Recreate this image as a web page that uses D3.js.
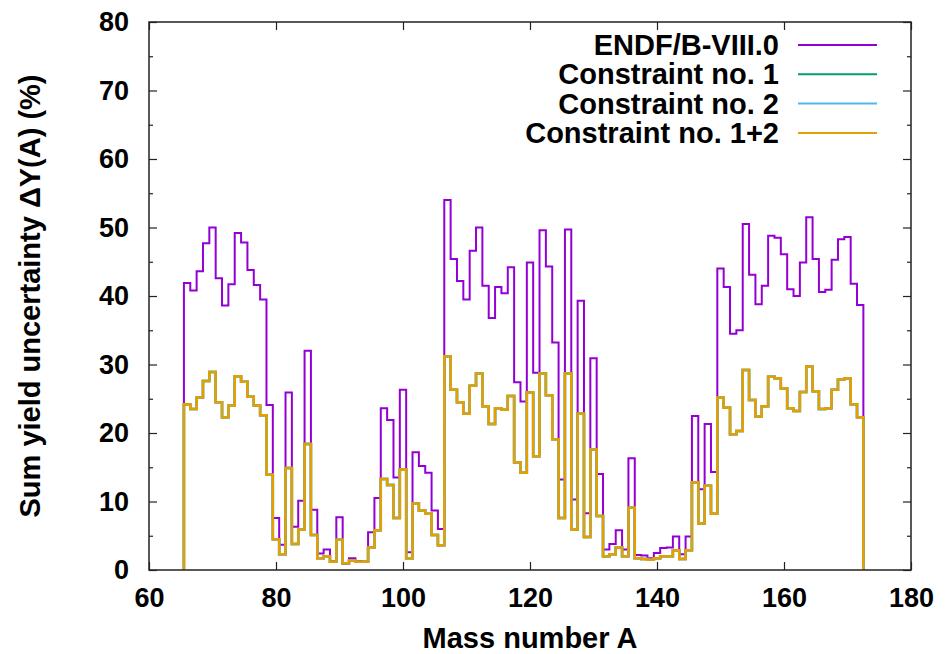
<!DOCTYPE html>
<html>
<head>
<meta charset="utf-8">
<script src="https://cdn.jsdelivr.net/npm/d3@7"></script>
<style>
  body { margin: 0; background: #fff; }
  svg text { font-family: "Liberation Sans", Arial, sans-serif; font-weight: bold; fill: #000; }
</style>
</head>
<body>
<div id="chart"></div>
<script>
// mass numbers A (one bin per A, histogram steps)
var massNumbers = [66,67,68,69,70,71,72,73,74,75,76,77,78,79,80,81,82,83,84,85,86,87,88,89,90,
  91,92,93,94,95,96,97,98,99,100,101,102,103,104,105,106,107,108,109,110,111,112,113,114,115,
  116,117,118,119,120,121,122,123,124,125,126,127,128,129,130,131,132,133,134,135,136,137,138,
  139,140,141,142,143,144,145,146,147,148,149,150,151,152,153,154,155,156,157,158,159,160,161,
  162,163,164,165,166,167,168,169,170,171,172];

// sum yield uncertainty (%)
var endf = [41.9,40.8,43.6,47.7,50.0,42.6,38.6,41.7,49.2,47.8,43.8,41.6,39.5,24.1,7.6,3.7,25.9,6.3,10.1,32.0,
  8.8,2.4,3.0,1.3,7.7,0.9,1.7,1.3,1.2,5.5,10.5,23.6,21.9,13.5,26.3,2.6,17.2,15.2,14.2,8.7,
  6.0,54.0,45.4,42.2,39.5,46.6,50.0,41.5,36.8,41.3,40.4,44.2,27.4,24.6,44.9,28.8,49.6,44.3,33.2,13.2,
  49.7,10.3,39.3,8.3,30.9,14.0,3.0,3.8,5.8,3.0,16.3,2.2,2.1,1.7,2.5,3.2,3.3,4.9,2.3,4.9,
  22.5,11.8,21.3,14.3,44.0,41.3,34.5,35.0,50.5,43.1,38.8,41.5,48.8,48.5,46.1,41.0,40.0,44.9,51.5,45.4,
  40.6,40.9,45.3,48.3,48.6,41.8,38.7];

var constraint12 = [24.2,23.5,25.2,27.6,28.9,24.5,22.3,24.0,28.3,27.5,25.3,24.0,22.6,13.9,4.5,2.3,14.9,3.8,5.9,18.4,
  5.1,1.7,2.0,1.2,4.4,1.0,1.4,1.2,1.2,3.3,5.8,13.3,12.4,7.6,14.7,1.7,9.7,8.7,8.2,5.1,
  3.6,31.2,26.3,24.5,22.8,26.9,28.7,23.9,21.3,23.6,23.4,25.4,15.7,14.2,25.9,16.6,28.7,25.5,19.1,7.6,
  28.7,5.9,22.8,4.8,17.6,7.9,2.0,2.3,3.3,2.0,9.1,1.7,1.6,1.5,1.7,2.0,2.0,2.9,1.6,2.9,
  12.8,6.8,12.3,8.2,25.2,23.7,19.8,20.3,29.2,24.8,22.4,23.9,28.2,28.0,26.5,23.6,23.2,26.0,29.7,26.1,
  23.5,23.6,26.3,27.8,28.0,24.2,22.3];

// constraint no. 1 and no. 2 lie exactly under the 1+2 curve in the picture
var constraint1 = constraint12;
var constraint2 = constraint12;

var seriesNames = ["ENDF/B-VIII.0", "Constraint no. 1", "Constraint no. 2", "Constraint no. 1+2"];
var seriesColors = ["#9400d3", "#009e73", "#56b4e9", "#e69f00"];
var seriesValues = [endf, constraint1, constraint2, constraint12];

var xTicks = [60, 80, 100, 120, 140, 160, 180];
var yTicks = [0, 10, 20, 30, 40, 50, 60, 70, 80];
var yMinorTicks = [5, 15, 25, 35, 45, 55, 65, 75];

// set the dimensions and margins of the graph
var margin = {top: 22, right: 34, bottom: 84, left: 149},
    width = 945 - margin.left - margin.right,
    height = 654 - margin.top - margin.bottom;

var svg = d3.select("#chart")
  .append("svg")
    .attr("width", width + margin.left + margin.right)
    .attr("height", height + margin.top + margin.bottom)
  .append("g")
    .attr("transform", "translate(" + margin.left + "," + margin.top + ")");

var x = d3.scaleLinear().domain([60, 180]).range([0, width]);
var y = d3.scaleLinear().domain([0, 80]).range([height, 0]);

// axes with inward ticks, mirrored on the opposite side
function styleAxis(g) {
  g.select(".domain").remove();
  g.selectAll(".tick line").attr("stroke", "#222").attr("stroke-width", 1.2);
  g.selectAll(".tick text").style("font-size", "27px");
}

svg.append("g")
  .attr("transform", "translate(0," + height + ")")
  .call(d3.axisBottom(x).tickValues(xTicks).tickSize(-8).tickPadding(18))
  .call(styleAxis);
svg.append("g")
  .call(d3.axisTop(x).tickValues(xTicks).tickSize(-8).tickFormat(""))
  .call(styleAxis);
svg.append("g")
  .call(d3.axisLeft(y).tickValues(yTicks).tickSize(-8).tickPadding(20))
  .call(styleAxis);
svg.append("g")
  .attr("transform", "translate(" + width + ",0)")
  .call(d3.axisRight(y).tickValues(yTicks).tickSize(-8).tickFormat(""))
  .call(styleAxis);
svg.append("g")
  .call(d3.axisLeft(y).tickValues(yMinorTicks).tickSize(-4).tickFormat(""))
  .call(styleAxis);
svg.append("g")
  .attr("transform", "translate(" + width + ",0)")
  .call(d3.axisRight(y).tickValues(yMinorTicks).tickSize(-4).tickFormat(""))
  .call(styleAxis);

// histogram-step path, dropping to zero at both ends
function stepPoints(values) {
  var pts = [[massNumbers[0] - 0.5, 0]];
  values.forEach(function(v, i) {
    pts.push([massNumbers[i] - 0.5, v]);
    pts.push([massNumbers[i] + 0.5, v]);
  });
  pts.push([massNumbers[massNumbers.length - 1] + 0.5, 0]);
  return pts;
}

var line = d3.line()
  .x(function(d) { return x(d[0]); })
  .y(function(d) { return y(d[1]); });

seriesValues.forEach(function(vals, i) {
  svg.append("path")
    .datum(stepPoints(vals))
    .attr("fill", "none")
    .attr("stroke", seriesColors[i])
    .attr("stroke-width", i === 0 ? 2 : 2.5)
    .attr("stroke-linejoin", "miter")
    .attr("d", line);
});

// border
svg.append("rect")
  .attr("width", width)
  .attr("height", height)
  .attr("fill", "none")
  .attr("stroke", "#222")
  .attr("stroke-width", 1.5);

// legend
var legend = svg.append("g").attr("transform", "translate(" + (779 - margin.left) + "," + (45 - margin.top) + ")");
seriesNames.forEach(function(name, i) {
  var row = legend.append("g").attr("transform", "translate(0," + (i * 29.3) + ")");
  row.append("text")
    .attr("text-anchor", "end")
    .attr("y", 10)
    .style("font-size", "29px")
    .text(name);
  row.append("line")
    .attr("x1", 19).attr("x2", 98)
    .attr("y1", 0).attr("y2", 0)
    .attr("stroke", seriesColors[i])
    .attr("stroke-width", 2);
});

// X axis label
svg.append("text")
  .attr("text-anchor", "middle")
  .attr("x", width / 2)
  .attr("y", height + 78)
  .style("font-size", "29px")
  .text("Mass number A");

// Y axis label
svg.append("text")
  .attr("text-anchor", "middle")
  .attr("transform", "rotate(-90)")
  .attr("x", -height / 2)
  .attr("y", -109)
  .style("font-size", "29px")
  .text("Sum yield uncertainty \u0394Y(A) (%)");
</script>
</body>
</html>
